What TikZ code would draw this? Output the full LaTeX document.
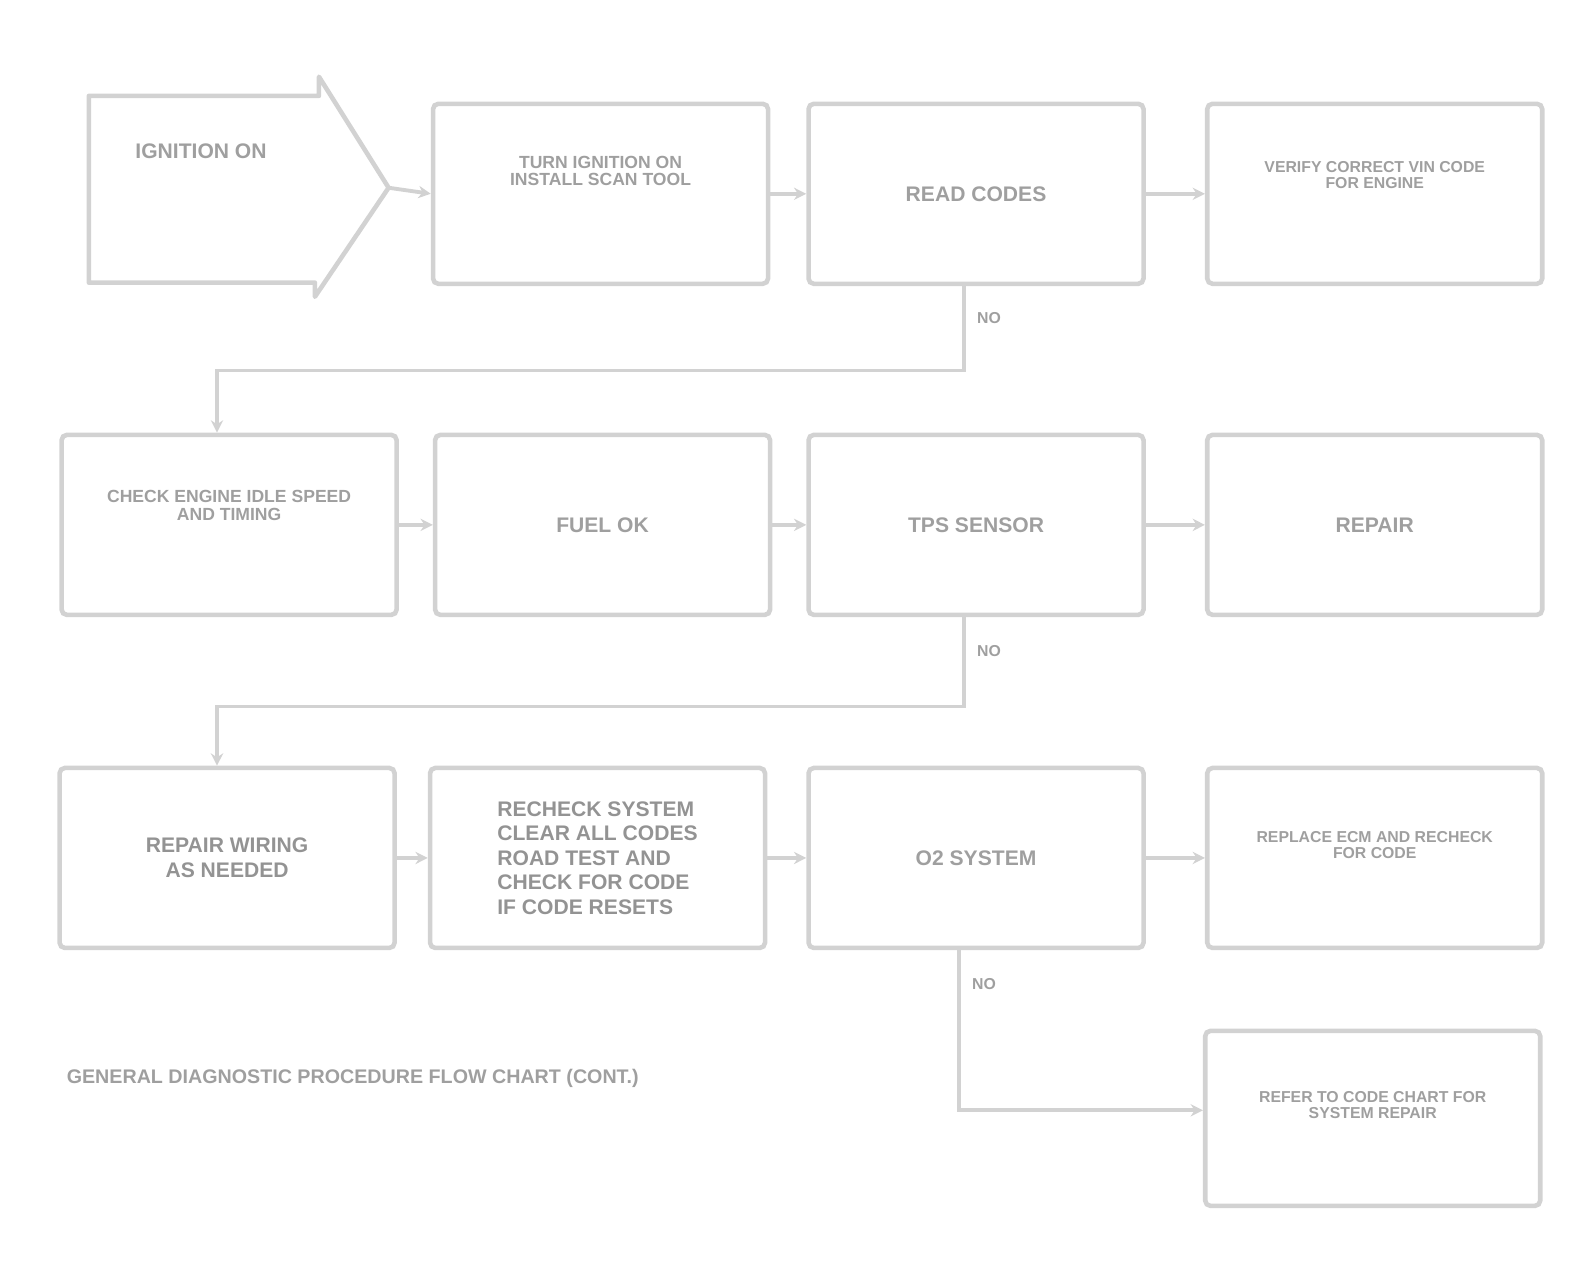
\documentclass[tikz,border=0pt]{standalone}
\usepackage{fontspec}
\setmainfont{Liberation Sans}
\usetikzlibrary{arrows.meta}
\begin{document}
\begin{tikzpicture}[x=0.02019cm,y=-0.02019cm,
        every node/.style = {
            font = \bfseries,
            text = gray!75
        },
        stepbox/.style = {
            draw = gray!35,
            line width = 2.6pt,
            rounded corners = 3pt,
            minimum width = 6.7cm,
            minimum height = 3.6cm,
            align = center,
            inner sep = 4pt
        },
        link/.style = {
            draw = gray!35,
            line width = 2.2pt,
            -{Stealth[length=7pt,width=7pt]}
        },
        answer/.style = {
            font = \bfseries\small,
            anchor = west
        }]
    \useasboundingbox (0,0) rectangle (31.64cm,-25.62cm);
    % first row
    \coordinate (tip) at (385,186);
    \draw[draw = gray!35, line width = 2.6pt, line join = round]
        (88,95) -- (316,95) -- (316,76) -- (tip) -- (312,294) -- (312,280) -- (88,280) -- cycle;
    \node[font = \bfseries\large, anchor = west] (start) at (128,150) {IGNITION ON};
    \node[stepbox] (check) at (595,192) {TURN IGNITION ON\\[-2pt]INSTALL SCAN TOOL\\[14pt]\mbox{}};
    \node[stepbox] (read) at (967,192) {\large READ CODES};
    \node[stepbox, font = \bfseries\small] (vin) at (1362,192) {VERIFY CORRECT VIN CODE\\[-2pt]FOR ENGINE\\[10pt]\mbox{}};
    % second row
    \node[stepbox] (idle) at (227,520) {CHECK ENGINE IDLE SPEED\\[-2pt]AND TIMING\\[10pt]\mbox{}};
    \node[stepbox] (fuel) at (597,520) {\large FUEL OK};
    \node[stepbox] (sensor) at (967,520) {\large TPS SENSOR};
    \node[stepbox] (ecm) at (1362,520) {\large REPAIR};
    % third row
    \node[stepbox, font = \bfseries\large, text = gray!85] (wiring) at (225,850) {REPAIR WIRING\\AS NEEDED};
    \node[stepbox, font = \bfseries\large, text = gray!85, align = left] (notes) at (592,850) {RECHECK SYSTEM\\CLEAR ALL CODES\\ROAD TEST AND\\CHECK FOR CODE\\IF CODE RESETS};
    \node[stepbox] (test) at (967,850) {\large O2 SYSTEM};
    \node[stepbox, font = \bfseries\small] (cont) at (1362,850) {REPLACE ECM AND RECHECK\\[-2pt]FOR CODE\\[4pt]\mbox{}};
    \node[stepbox, font = \bfseries\small, minimum height = 3.5cm] (final) at (1360,1108) {REFER TO CODE CHART FOR\\[-2pt]SYSTEM REPAIR\\[4pt]\mbox{}};
    \node[font = \bfseries\fontsize{11.2}{13}\selectfont, anchor = west] (caption) at (60,1068) {GENERAL DIAGNOSTIC PROCEDURE FLOW CHART (CONT.)};
    % links
    \draw[link] (tip) -- (check.west);
    \draw[link] (check) -- (read);
    \draw[link] (read) -- (vin);
    \draw[link] (idle) -- (fuel);
    \draw[link] (fuel) -- (sensor);
    \draw[link] (sensor) -- (ecm);
    \draw[link] (wiring) -- (notes);
    \draw[link] (notes) -- (test);
    \draw[link] (test) -- (cont);
    \coordinate (turn1) at (955,367);
    \coordinate (turn2) at (955,700);
    \coordinate (turn3) at (950,1100);
    \draw[link] (read.south -| turn1) -- (turn1) -| (idle.north -| 215,0);
    \draw[link] (sensor.south -| turn2) -- (turn2) -| (wiring.north -| 215,0);
    \draw[link] (test.south -| turn3) -- (turn3) -- (final.west |- turn3);
    % answers
    \node[answer] (no1) at (962,315) {NO};
    \node[answer] (no2) at (962,645) {NO};
    \node[answer] (no3) at (957,975) {NO};
\end{tikzpicture}
\end{document}
